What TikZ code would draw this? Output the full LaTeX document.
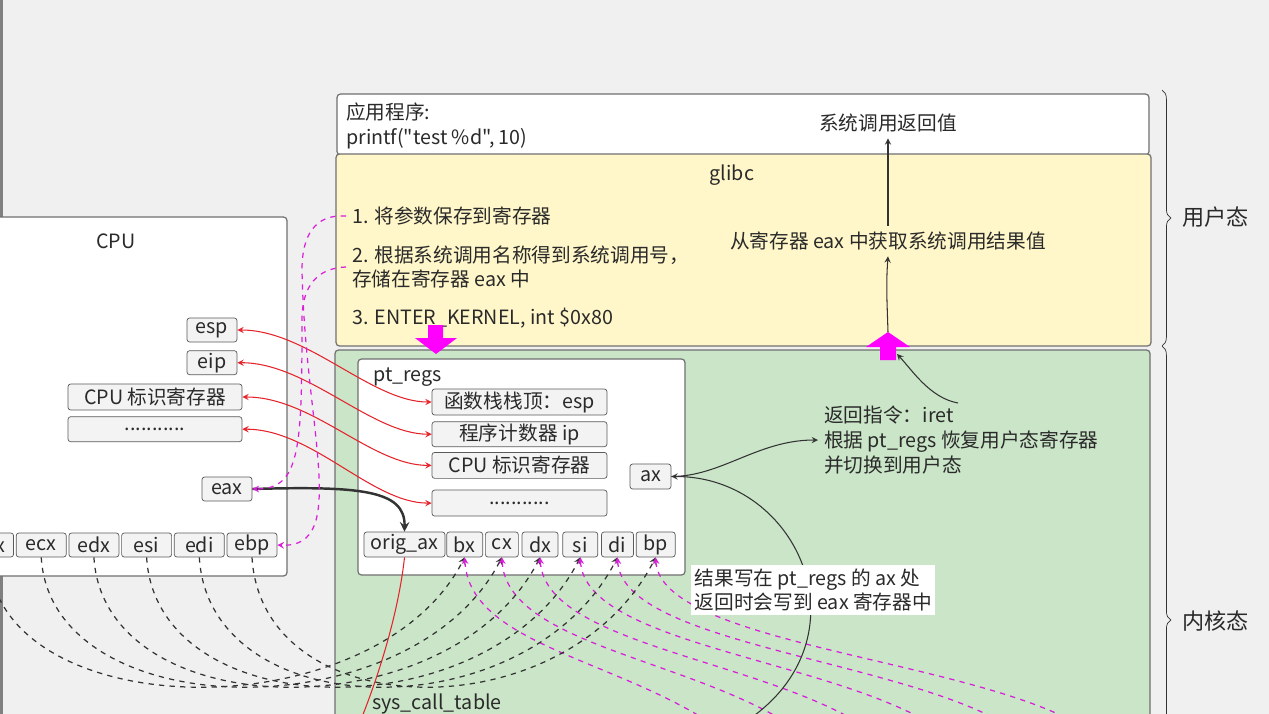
\documentclass[tikz,border=0pt]{standalone}
\usepackage{fontspec}
\setmainfont{Noto Sans CJK SC}[Ligatures=TeXOff]
\usetikzlibrary{positioning,decorations.pathreplacing}
\definecolor{bggray}{HTML}{F0F0F0}
\definecolor{boxgray}{HTML}{707070}
\definecolor{reggray}{HTML}{5A5A5A}
\definecolor{regfill}{HTML}{F3F3F3}
\definecolor{txtgray}{HTML}{2A2A2A}
\definecolor{libyellow}{HTML}{FFF7C9}
\definecolor{kerngreen}{HTML}{CAE5C8}
\definecolor{linkred}{HTML}{E5232B}
\definecolor{magline}{HTML}{D91ED9}
\definecolor{blockmag}{HTML}{FF00FF}
\definecolor{darkline}{HTML}{333333}
\tikzset{
    > = stealth,
    every node/.append style = {
        text = txtgray,
        font = \fontsize{11.2}{14}\selectfont
    },
    reg/.style = {
        draw = reggray,
        fill = regfill,
        rounded corners = 1.5pt,
        inner sep = 0pt,
        minimum height = 0.5cm
    },
    layer/.style = {
        draw = boxgray,
        rounded corners = 2pt,
        line width = 0.7pt
    },
    redlink/.style = {<->, draw = linkred, line width = 0.6pt},
    magdash/.style = {draw = magline, dashed, line width = 0.7pt},
    blkdash/.style = {draw = darkline, dashed, line width = 0.7pt},
    plainarrow/.style = {->, draw = darkline, line width = 0.6pt}
}

\begin{document}
\begin{tikzpicture}[x=0.02cm, y=-0.02cm]
    \useasboundingbox (0,0) rectangle (1269,714);
    \clip (0,0) rectangle (1269,714);
    \fill[bggray] (0,0) rectangle (1269,714);
    \fill[gray] (0,0) rectangle (3,714);

%layers
    \draw[layer, fill=white] (-20,217) rectangle (287,576);
    \draw[layer, fill=white] (337,94) rectangle (1149,155);
    \draw[layer, fill=libyellow] (336,154) rectangle (1151,346);
    \draw[layer, fill=kerngreen] (335,350) rectangle (1150,800);
    \draw[layer, fill=white] (358,359) rectangle (685,575);

%user side texts
    \node (app) [anchor=west, align=left] at (340,126) {应用程序:\\printf("test \%d", 10)};
    \node (retval) at (888,123) {系统调用返回值};
    \node (glibc) at (732,175) {glibc};
    \node (step1) [anchor=west] at (346,216) {1. 将参数保存到寄存器};
    \node (step2) [anchor=west, align=left] at (346,267) {2. 根据系统调用名称得到系统调用号，\\存储在寄存器 eax 中};
    \node (step3) [anchor=west] at (346,318) {3. ENTER\_KERNEL, int \$0x80};
    \node (getres) at (888,241) {从寄存器 eax 中获取系统调用结果值};

%cpu
    \node (cpu) at (116,241) {CPU};
    \node (esp) [reg, minimum width=1cm, minimum height=0.48cm] at (212,330) {esp};
    \node (eip) [reg, minimum width=1cm, minimum height=0.48cm, below=0.16cm of esp] {eip};
    \node (cpuflag) [reg, minimum width=3.48cm, minimum height=0.52cm] at (155,397) {CPU 标识寄存器};
    \node (cpudots) [reg, minimum width=3.48cm, below=0.12cm of cpuflag] {...........};
    \node (eax) [reg, minimum width=1cm, minimum height=0.48cm] at (227,489) {eax};
    \node (ebp) [reg, minimum width=1cm, minimum height=0.48cm] at (252,545) {ebp};
    \node (edi) [reg, minimum width=1cm, minimum height=0.48cm, left=0.04cm of ebp] {edi};
    \node (esi) [reg, minimum width=1cm, minimum height=0.48cm, left=0.04cm of edi] {esi};
    \node (edx) [reg, minimum width=1cm, minimum height=0.48cm, left=0.04cm of esi] {edx};
    \node (ecx) [reg, minimum width=1cm, minimum height=0.48cm, left=0.04cm of edx] {ecx};
    \node (ebx) [reg, minimum width=1cm, minimum height=0.48cm, left=0.04cm of ecx] {ebx};

%pt_regs
    \node (ptregs) [anchor=west] at (367,377) {pt\_regs};
    \node (stacktop) [reg, minimum width=3.5cm, minimum height=0.52cm] at (519.5,402) {函数栈栈顶：esp};
    \node (pc) [reg, minimum width=3.5cm, below=0.12cm of stacktop] {程序计数器 ip};
    \node (flag) [reg, minimum width=3.5cm, minimum height=0.52cm, below=0.1cm of pc] {CPU 标识寄存器};
    \node (dots) [reg, minimum width=3.5cm, minimum height=0.52cm, below=0.22cm of flag] {...........};
    \node (ax) [reg, minimum width=0.82cm] at (650.5,476.5) {ax};
    \node (origax) [reg, minimum width=1.62cm] at (404.5,544.5) {orig\_ax};
    \node (bx) [reg, minimum width=0.72cm, right=0.02cm of origax] {bx};
    \node (cx) [reg, minimum width=0.66cm, right=0.04cm of bx] {cx};
    \node (dx) [reg, minimum width=0.72cm, right=0.06cm of cx] {dx};
    \node (si) [reg, minimum width=0.7cm, right=0.08cm of dx] {si};
    \node (di) [reg, minimum width=0.64cm, right=0.06cm of si] {di};
    \node (bp) [reg, minimum width=0.78cm, right=0.04cm of di] {bp};
    \node (syscall) [anchor=west] at (366,704) {sys\_call\_table};

%kernel texts
    \node (iret) [anchor=west, align=left] at (818,440) {返回指令：iret\\根据 pt\_regs 恢复用户态寄存器\\并切换到用户态};
    \node (user) [anchor=west, font=\fontsize{12.6}{15}\selectfont] at (1176,217) {用户态};
    \node (kernel) [anchor=west, font=\fontsize{12.6}{15}\selectfont] at (1176,621) {内核态};

%braces
    \draw[draw=darkline, decorate, decoration={brace, amplitude=5pt}] (1162,90) -- (1162,346);
    \draw[draw=darkline, decorate, decoration={brace, amplitude=5pt}] (1162,346) -- (1162,894);

%block arrows
    \fill[blockmag] (428,325) -- (443,325) -- (443,338) -- (457,338) -- (436,354) -- (415,338) -- (428,338) -- cycle;
    \fill[blockmag] (888,332) -- (910,347) -- (896,347) -- (896,360) -- (880,360) -- (880,347) -- (866,347) -- cycle;
    \coordinate (uptip) at (888,332);
    \coordinate (upside) at (897,354);
    \coordinate (iretsrc) at (958,403);
    \coordinate (resultsrc) at (745,722);
    \coordinate (tableend) at (360,722);

%glibc arrows
    \draw[plainarrow] (getres.north) -- (retval.south);
    \draw[plainarrow] (uptip) .. controls (887,300) and (886,285) .. (getres.south);
    \draw[plainarrow] (iretsrc) .. controls (930,398) and (912,370) .. (upside);

%save and restore
    \draw[redlink] (esp.east) .. controls +(70,0) and +(-60,0) .. (stacktop.west);
    \draw[redlink] (eip.east) .. controls +(70,0) and +(-60,0) .. (pc.west);
    \draw[redlink] (cpuflag.east) .. controls +(70,0) and +(-60,0) .. (flag.west);
    \draw[redlink] (cpudots.east) .. controls +(70,0) and +(-60,0) .. (dots.west);
    \draw[->, draw=darkline, line width=1.4pt] (eax.east) .. controls (360,486) and (405,490) .. (origax.north);
    \draw[linkred, line width=0.6pt] (origax.south) .. controls (400,600) and (385,660) .. (tableend);

%glibc to cpu
    \draw[magdash, ->] (step1.west) .. controls (315,214) and (302,235) .. (302,270) .. controls (305,430) and (350,548) .. (ebp.east);
    \draw[magdash, ->] (step2.west) .. controls (318,268) and (302,285) .. (302,320) .. controls (302,450) and (300,489) .. (eax.east);

%registers into pt_regs
    \foreach \cpureg/\ptreg/\ex in {ebx/bx/728, ecx/cx/805, edx/dx/877, esi/si/948, edi/di/1022, ebp/bp/1095} {
        \draw[blkdash, ->] (\cpureg.south) .. controls +(10,170) and +(-90,175) .. (\ptreg.south);
        \draw[magdash, <-] (\ptreg.south) .. controls +(5,90) and +(-100,-75) .. (\ex,735);
    }

%return value
    \draw[plainarrow] (resultsrc) .. controls (870,640) and (800,476) .. (ax.east);
    \draw[plainarrow] (ax.east) .. controls +(50,0) and +(-60,0) .. (iret.west);
    \node (note) [anchor=west, align=left, fill=white, inner sep=2pt] at (691,590) {结果写在 pt\_regs 的 ax 处\\返回时会写到 eax 寄存器中};
\end{tikzpicture}
\end{document}
